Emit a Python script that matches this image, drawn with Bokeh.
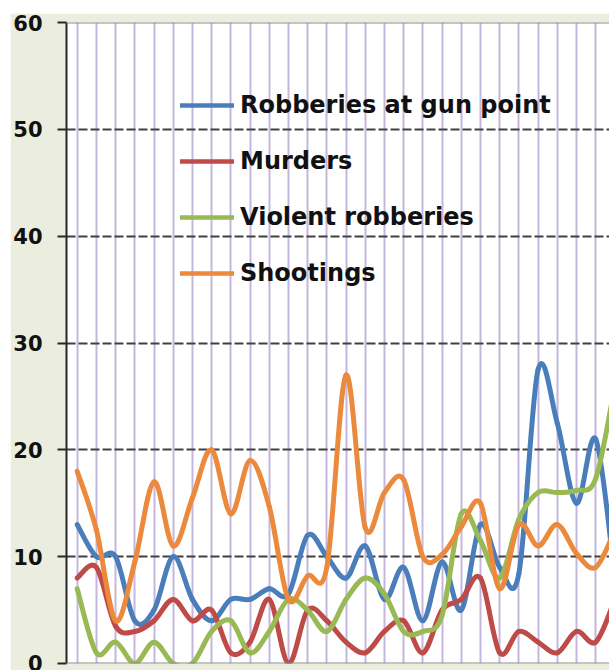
from bokeh.plotting import figure
from bokeh.models import Range1d, FixedTicker, Span, Legend, LegendItem, ColumnDataSource
from bokeh.embed import file_html
from bokeh.resources import INLINE

# ---- data (index = period number, last point partly outside the visible crop) ----
periods = list(range(29))
robberies_gun = [13, 10, 10, 4, 5, 10, 6, 4, 6, 6, 7, 6.5, 12, 10, 8, 11, 6, 9, 4, 9.5,
                 5, 13, 9, 8.4, 27.5, 22.5, 15, 21, 8]
murders = [8, 9, 3.5, 3, 4, 6, 4, 5, 1, 2, 6, 0, 5, 4, 2, 1, 3, 4, 1, 5,
           6, 8, 1, 3, 2, 1, 3, 2, 6]
violent_robberies = [7, 1, 2, 0, 2, 0, 0, 3, 4, 1, 3, 6, 5, 3, 6, 8, 6.5, 3, 3, 4.5,
                     14, 11.5, 8, 13.5, 16, 16, 16.2, 17.3, 26]
shootings = [18, 12.5, 4, 9.5, 17, 11, 15.5, 20, 14, 19, 14.7, 6, 8.2, 9, 27, 12.7, 16, 17.2, 10, 10.2,
             12.8, 15, 7, 13, 11, 13, 10.3, 9, 12.5]

series_names = ["Robberies at gun point", "Murders", "Violent robberies", "Shootings"]
series_values = [robberies_gun, murders, violent_robberies, shootings]
series_colors = ["#4A7EBB", "#BE4B48", "#98B954", "#EB8A3C"]
y_ticks = [0, 10, 20, 30, 40, 50, 60]

BEIGE = "#EBEDDE"

p = figure(width=599, height=657, output_backend="svg", toolbar_location=None,
           x_range=Range1d(-0.557, 27.72), y_range=Range1d(0, 60),
           min_border_left=56, min_border_right=0, min_border_top=9, min_border_bottom=7,
           margin=(13, 0, 0, 10))
p.border_fill_color = BEIGE
p.background_fill_color = "white"
p.outline_line_color = None
p.xaxis.visible = False

# grids
p.xgrid.ticker = FixedTicker(ticks=periods)
p.xgrid.grid_line_color = "#C4B6DC"
p.xgrid.grid_line_width = 2
p.ygrid.ticker = FixedTicker(ticks=[10, 20, 30, 40, 50])
p.ygrid.grid_line_color = "#404040"
p.ygrid.grid_line_width = 2
p.ygrid.grid_line_dash = "9 3"

# y axis
ya = p.yaxis[0]
ya.ticker = FixedTicker(ticks=y_ticks)
ya.axis_line_color = "#262626"
ya.axis_line_width = 2
ya.major_tick_line_color = "#262626"
ya.major_tick_line_width = 2
ya.major_tick_out = 9
ya.major_tick_in = 0
ya.minor_tick_line_color = None
ya.major_label_standoff = 15
ya.major_label_text_font = "DejaVu Sans"
ya.major_label_text_font_style = "bold"
ya.major_label_text_font_size = "21px"
ya.major_label_text_color = "#111111"

# top / bottom borders of plot area
p.add_layout(Span(location=60, dimension="width", line_color="#8C8C8C", line_width=2))
p.add_layout(Span(location=0, dimension="width", line_color="#8C8C8C", line_width=2))


def smooth_segments(xs, ys):
    n = len(xs)
    d = dict(x0=[], y0=[], x1=[], y1=[], cx0=[], cy0=[], cx1=[], cy1=[])
    for i in range(n - 1):
        im1 = max(i - 1, 0)
        ip2 = min(i + 2, n - 1)
        d["x0"].append(xs[i]); d["y0"].append(ys[i])
        d["x1"].append(xs[i + 1]); d["y1"].append(ys[i + 1])
        d["cx0"].append(xs[i] + (xs[i + 1] - xs[im1]) / 6)
        d["cy0"].append(ys[i] + (ys[i + 1] - ys[im1]) / 6)
        d["cx1"].append(xs[i + 1] - (xs[ip2] - xs[i]) / 6)
        d["cy1"].append(ys[i + 1] - (ys[ip2] - ys[i]) / 6)
    return ColumnDataSource(d)


items = []
for name, vals, col in zip(series_names, series_values, series_colors):
    src = smooth_segments(periods, vals)
    p.bezier(x0="x0", y0="y0", x1="x1", y1="y1", cx0="cx0", cy0="cy0", cx1="cx1", cy1="cy1",
             source=src, line_color=col, line_width=5, line_cap="round")
    # single-point line: draws nothing in the plot, only provides the legend swatch
    lr = p.line(x=[periods[0]], y=[vals[0]], line_color=col, line_width=4.5, line_cap="round")
    items.append(LegendItem(label=name, renderers=[lr]))

legend = Legend(items=items, location=(114, 375), orientation="vertical",
                glyph_width=54, glyph_height=30, label_height=30, spacing=26,
                label_standoff=6, padding=0, margin=0,
                label_text_font="DejaVu Sans", label_text_font_style="bold",
                label_text_font_size="24px", label_text_color="#111111",
                background_fill_alpha=0, border_line_alpha=0)
p.add_layout(legend, "center")

open("out.html", "w").write(file_html(p, INLINE))
